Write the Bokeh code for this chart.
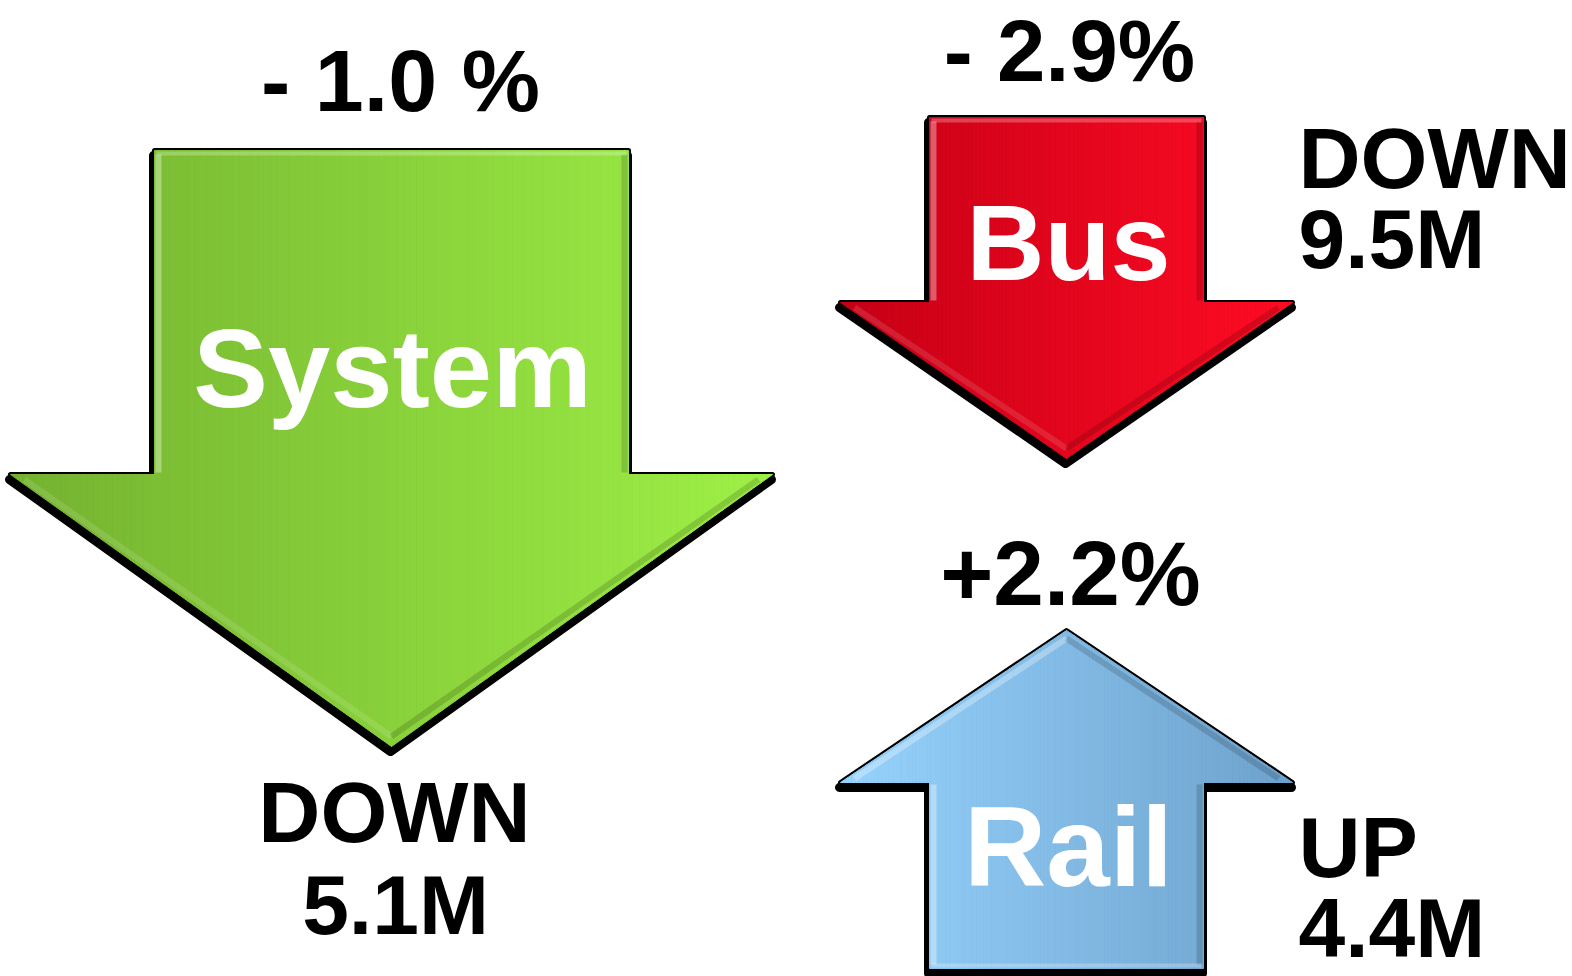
import numpy as np
from bokeh.plotting import figure
from bokeh.models import Range1d, ColumnDataSource
from bokeh.core.properties import value
from bokeh.embed import file_html
from bokeh.resources import INLINE

# ---------------- data ----------------
modes = ["System", "Bus", "Rail"]
pct_change = [-1.0, -2.9, 2.2]
pct_labels = ["- 1.0 %", "- 2.9%", "+2.2%"]
trend_words = ["DOWN", "DOWN", "UP"]
ridership_change = ["5.1M", "9.5M", "4.4M"]

# ---------------- layout (page pixel positions) ----------------
arrow_cx = [391, 1066, 1066]
shaft_half = [237, 137, 137]
head_half = [381, 226, 226]
shaft_end_y = [150, 117, 968]
head_y = [474, 302, 782]
tip_y = [746, 458, 630]
color_left = [(116, 178, 48), (198, 0, 22), (150, 211, 253)]
color_right = [(158, 240, 70), (255, 12, 36), (110, 162, 204)]

# (x, baseline y, font px)
pct_pos = [(400, 111, 88), (1069, 81, 87), (1070, 605, 91)]
name_pos = [(392, 408, 112), (1068, 280, 108), (1068, 886, 114)]
word_pos = [(394, 842, "center"), (1298, 188, "left"), (1298, 877, "left")]
chg_pos = [(395, 934, "center"), (1298, 268, "left"), (1298, 957, "left")]
WORD_PX, CHG_PX = 86, 84
MID = 0.355  # distance from middle to alphabetic baseline, in em

FONT = value("Liberation Sans")

p = figure(width=1572, height=976, x_range=Range1d(0, 1572), y_range=Range1d(976, 0),
           output_backend="svg", toolbar_location=None, min_border=0,
           x_axis_type=None, y_axis_type=None)
p.grid.visible = False
p.outline_line_color = None
p.background_fill_color = "white"
p.border_fill_color = "white"


def lerp(c0, c1, t):
    return "#%02x%02x%02x" % tuple(int(round(a + (b - a) * t)) for a, b in zip(c0, c1))


for i, m in enumerate(modes):
    cx, sh, hh = arrow_cx[i], shaft_half[i], head_half[i]
    by, hy, ty = shaft_end_y[i], head_y[i], tip_y[i]
    down = ty > hy
    # outline polygon, drawn as black shadow
    ox = [cx - sh, cx + sh, cx + sh, cx + hh, cx, cx - hh, cx - sh]
    oy = [by, by, hy, hy, ty, hy, hy]
    p.patch([x - 1 for x in ox], [y + 5 for y in oy], fill_color="black",
            line_color="black", line_width=9, line_join="round")
    p.patch(ox, oy, fill_color="black", line_color="black", line_width=5, line_join="round")

    def near(x):
        return hy + (ty - hy) * (1 - abs(x - cx) / hh)

    xs = sorted(set(np.linspace(cx - hh, cx + hh, 121).tolist() + [cx - sh, cx, cx + sh]))
    px, py, cols = [], [], []
    for x0, x1 in zip(xs[:-1], xs[1:]):
        xm = (x0 + x1) / 2
        far = by if abs(xm - cx) <= sh else hy
        px.append([x0, x1, x1, x0])
        py.append([far, far, near(x1), near(x0)])
        cols.append(lerp(color_left[i], color_right[i], (xm - (cx - hh)) / (2 * hh)))
    src = ColumnDataSource(dict(xs=px, ys=py, c=cols))
    p.patches("xs", "ys", source=src, fill_color="c", line_color="c", line_width=1)

    # bevel: light on left/top edges, dark on right edges
    s = 1 if down else -1
    p.line([cx - sh + 4, cx - sh + 4], [by + 4 * s, hy - 2 * s], line_color="white",
           line_alpha=0.35, line_width=6)
    p.line([cx + sh - 4, cx + sh - 4], [by + 4 * s, hy - 2 * s], line_color="black",
           line_alpha=0.15, line_width=6)
    p.line([cx - sh + 2, cx + sh - 2], [by + 3 * s, by + 3 * s], line_color="white",
           line_alpha=0.25, line_width=4)
    if down:
        p.line([cx - hh + 14, cx], [hy + 5, ty - 10], line_color="white",
               line_alpha=0.12, line_width=6)
        p.line([cx, cx + hh - 14], [ty - 10, hy + 5], line_color="black",
               line_alpha=0.15, line_width=6)
    else:
        p.line([cx - hh + 14, cx], [hy - 4, ty + 8], line_color="white",
               line_alpha=0.3, line_width=6)
        p.line([cx, cx + hh - 14], [ty + 8, hy - 4], line_color="black",
               line_alpha=0.15, line_width=6)

# percentage labels
p.text(x=[q[0] for q in pct_pos], y=[q[1] - MID * q[2] for q in pct_pos], text=pct_labels,
       text_font=FONT, text_font_style="bold",
       text_font_size=["%dpx" % q[2] for q in pct_pos],
       text_align="center", text_baseline="middle", text_color="black")

# mode names in arrows
p.text(x=[q[0] for q in name_pos], y=[q[1] - MID * q[2] for q in name_pos], text=modes,
       text_font=FONT, text_font_style="bold",
       text_font_size=["%dpx" % q[2] for q in name_pos],
       text_align="center", text_baseline="middle", text_color="white")

# trend words and change amounts
for i in range(len(modes)):
    wx, wy, wa = word_pos[i]
    p.text(x=[wx], y=[wy - MID * WORD_PX], text=[trend_words[i]], text_font=FONT,
           text_font_style="bold", text_font_size="%dpx" % WORD_PX, text_align=wa,
           text_baseline="middle", text_color="black")
    cx_, cy_, ca = chg_pos[i]
    p.text(x=[cx_], y=[cy_ - MID * CHG_PX], text=[ridership_change[i]], text_font=FONT,
           text_font_style="bold", text_font_size="%dpx" % CHG_PX, text_align=ca,
           text_baseline="middle", text_color="black")

open("out.html", "w").write(file_html(p, INLINE))
